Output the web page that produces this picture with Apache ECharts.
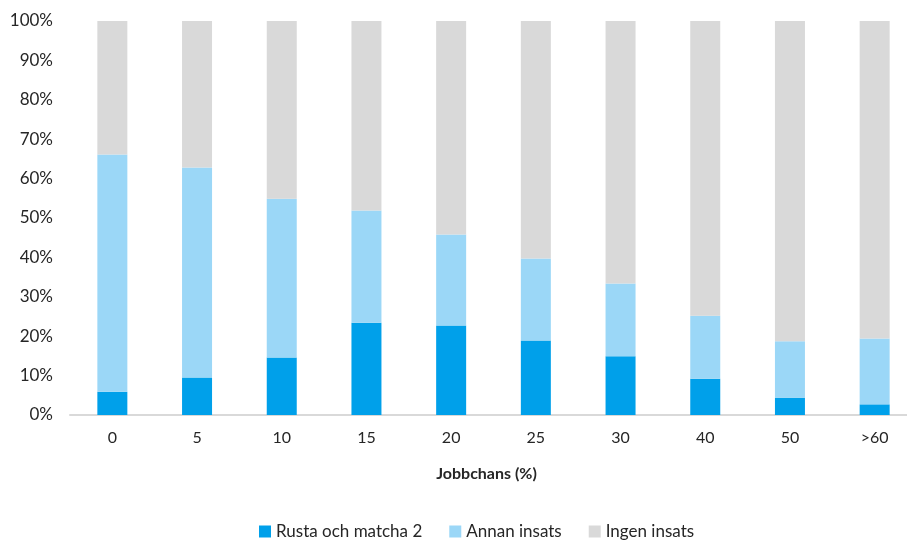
<!DOCTYPE html>
<html>
<head>
<meta charset="utf-8">
<script src="https://cdn.jsdelivr.net/npm/echarts@6/dist/echarts.min.js"></script>
<style>
  html, body { margin: 0; padding: 0; background: #fff; overflow: hidden; }
  /* plot runs a bit past the right edge, like the original export */
  #chart { width: 917px; height: 542px; }
</style>
</head>
<body>
<div id="chart"></div>
<script>
// jobbchans categories
const categories = ['0', '5', '10', '15', '20', '25', '30', '40', '50', '>60'];
// share in Rusta och matcha 2 (%)
const rusta = [5.9, 9.5, 14.6, 23.4, 22.7, 18.9, 14.9, 9.2, 4.4, 2.7];
// share in annan insats (%)
const annan = [60.2, 53.3, 40.3, 28.5, 23.1, 20.8, 18.5, 16.0, 14.3, 16.7];
// share with ingen insats (%)
const ingen = [33.9, 37.2, 45.1, 48.1, 54.2, 60.3, 66.6, 74.8, 81.3, 80.6];

const FONT = 'Lato, "Open Sans", sans-serif';
const chart = echarts.init(document.getElementById('chart'));

const mkSeries = (name, data, color) => ({
  name, type: 'bar', stack: 'tot', data,
  barWidth: 30,
  itemStyle: { color },
  emphasis: { disabled: true }
});

chart.setOption({
  animation: false,
  grid: { left: 70, right: 0, top: 21, bottom: 127 },
  legend: {
    bottom: -3, left: 254,
    itemWidth: 12, itemHeight: 12, itemGap: 27,
    icon: 'rect',
    textStyle: { color: '#262626', fontSize: 17, fontFamily: FONT }
  },
  xAxis: {
    type: 'category',
    data: categories,
    name: 'Jobbchans (%)',
    nameLocation: 'middle',
    nameGap: 51,
    nameTextStyle: { color: '#262626', fontSize: 16, fontWeight: 'bold', fontFamily: FONT, padding: [0, 14, 0, 0] },
    axisLine: { lineStyle: { color: '#d9d9d9', width: 2 } },
    axisTick: { show: false },
    axisLabel: { color: '#262626', fontSize: 16, fontFamily: FONT, margin: 15 }
  },
  yAxis: {
    type: 'value',
    min: 0, max: 100, interval: 10,
    splitLine: { show: false },
    axisLine: { show: false },
    axisTick: { show: false },
    axisLabel: { color: '#262626', fontSize: 17, fontFamily: FONT, margin: 17, formatter: '{value}%' }
  },
  series: [
    mkSeries('Rusta och matcha 2', rusta, '#00a0ea'),
    mkSeries('Annan insats', annan, '#9bd7f7'),
    mkSeries('Ingen insats', ingen, '#d9d9d9')
  ]
});
</script>
</body>
</html>
